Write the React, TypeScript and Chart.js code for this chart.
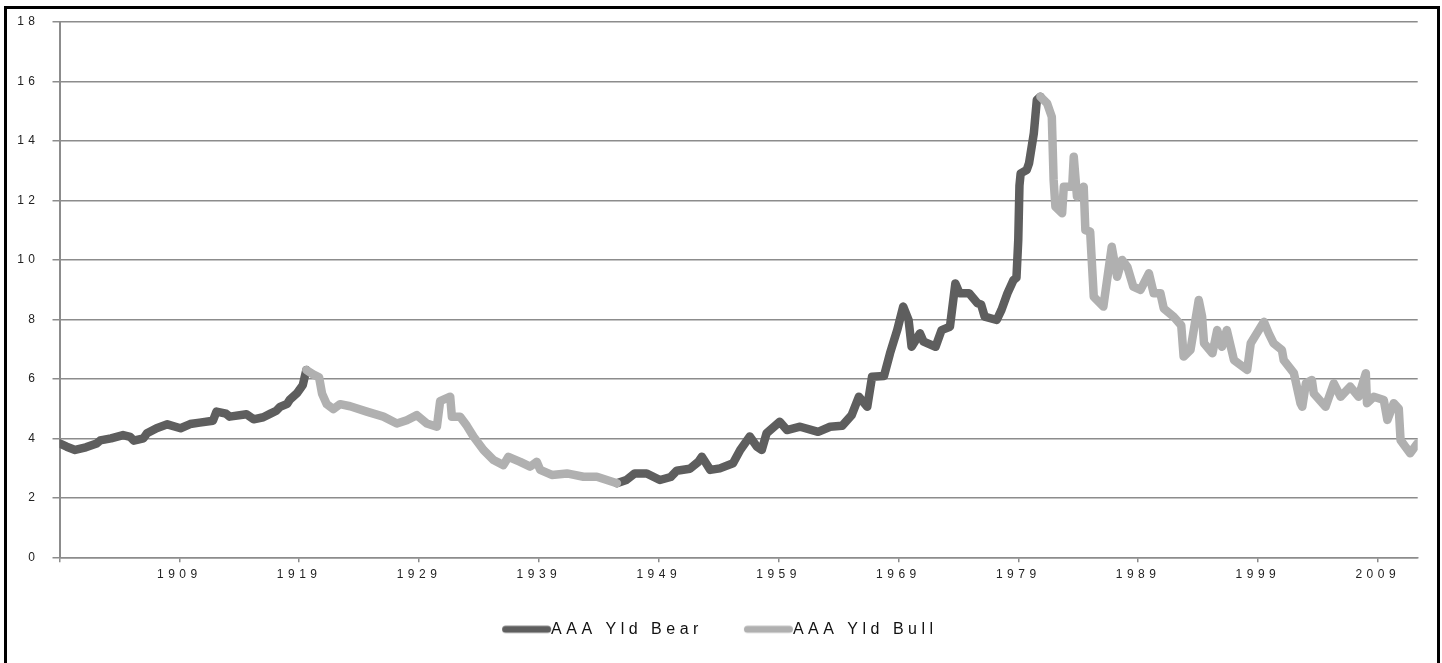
import React, { useEffect, useRef } from "react";
import { Chart, registerables } from "chart.js";

Chart.register(...registerables);

// ---- data ----
const seriesNames = ["AAA Yld Bear", "AAA Yld Bull"];

// Bear regimes: 1899-1919 and 1945-1980 (null = break between the two runs)
const bearYears = [
  1899.0, 1899.6, 1900.3, 1901.2, 1902.1, 1902.4, 1903.3, 1904.3, 1904.9, 1905.2,
  1906.0, 1906.3, 1907.1, 1908.0, 1909.1, 1909.9, 1910.7, 1911.8, 1912.1, 1912.9,
  1913.2, 1914.6, 1915.2, 1916.0, 1916.6, 1917.1, 1917.4, 1918.0, 1918.2, 1918.8,
  1919.3, 1919.45, 1919.6,
  1930.0,
  1945.5, 1946.3, 1947.0, 1948.0, 1949.1, 1950.0, 1950.5, 1951.6, 1952.3, 1952.6,
  1953.3, 1954.1, 1955.2, 1955.8, 1956.6, 1957.2, 1957.6, 1958.0, 1959.1, 1959.7,
  1960.8, 1962.3, 1963.3, 1964.3, 1965.1, 1965.7, 1966.4, 1966.8, 1967.8, 1968.3,
  1968.9, 1969.4, 1969.85, 1970.1, 1970.8, 1971.1, 1972.1, 1972.6, 1973.3, 1973.75,
  1974.1, 1974.9, 1975.6, 1975.9, 1976.2, 1977.2, 1977.6, 1978.1, 1978.6, 1978.85,
  1979.0, 1979.1, 1979.2, 1979.7, 1979.9, 1980.3, 1980.55, 1980.85,
];
const bearYields = [
  3.83, 3.72, 3.61, 3.7, 3.83, 3.93, 4.0, 4.11, 4.05, 3.92,
  4.0, 4.17, 4.34, 4.47, 4.34, 4.48, 4.53, 4.59, 4.9, 4.83,
  4.73, 4.81, 4.64, 4.71, 4.83, 4.93, 5.06, 5.16, 5.29, 5.51,
  5.79, 6.05, 6.3,
  null,
  2.49, 2.6, 2.82, 2.82, 2.6, 2.7, 2.91, 2.98, 3.21, 3.38,
  2.94, 2.99, 3.16, 3.61, 4.06, 3.72, 3.61, 4.17, 4.56, 4.28,
  4.39, 4.22, 4.39, 4.42, 4.78, 5.4, 5.06, 6.07, 6.1, 6.86,
  7.64, 8.43, 7.98, 7.08, 7.53, 7.25, 7.08, 7.64, 7.75, 9.21,
  8.88, 8.88, 8.54, 8.5, 8.09, 7.98, 8.32, 8.88, 9.32, 9.4,
  10.67, 12.5, 12.91, 13.02, 13.25, 14.26, 15.38, 15.49,
];

// Bull regimes: 1919-1945 and 1980-2012
const bullYears = [
  1919.6, 1920.16, 1920.66, 1920.91, 1921.3, 1921.85, 1922.41, 1923.25, 1924.64, 1926.03,
  1927.15, 1927.98, 1928.82, 1929.65, 1930.49, 1930.76, 1931.6, 1931.74, 1932.43, 1932.99,
  1933.54, 1934.38, 1935.21, 1936.04, 1936.46, 1937.44, 1938.27, 1938.83, 1939.11, 1940.08,
  1941.34, 1942.72, 1943.84, 1945.51,
  1960.0,
  1980.85, 1981.4, 1981.8, 1981.95, 1982.1, 1982.66, 1982.8, 1983.5, 1983.63, 1983.9,
  1984.46, 1984.6, 1985.0, 1985.3, 1986.1, 1986.8, 1987.25, 1987.66, 1988.1, 1988.6,
  1989.2, 1989.9, 1990.3, 1990.86, 1991.14, 1991.97, 1992.6, 1992.8, 1993.37, 1994.06,
  1994.34, 1994.5, 1995.2, 1995.6, 1996.0, 1996.4, 1997.0, 1998.1, 1998.4, 1999.5,
  1999.9, 2000.3, 2001.0, 2001.15, 2002.0, 2002.55, 2002.7, 2003.0, 2003.5, 2003.66,
  2004.64, 2005.33, 2005.9, 2006.7, 2007.4, 2008.0, 2008.1, 2008.67, 2009.5, 2009.8,
  2010.33, 2010.75, 2010.9, 2011.7, 2012.3,
];
const bullYields = [
  6.3, 6.15, 6.05, 5.5, 5.15, 4.98, 5.15, 5.08, 4.9, 4.73,
  4.5, 4.61, 4.78, 4.5, 4.39, 5.25, 5.4, 4.73, 4.73, 4.42,
  4.06, 3.61, 3.27, 3.1, 3.38, 3.21, 3.05, 3.21, 2.94, 2.77,
  2.82, 2.71, 2.71, 2.49,
  null,
  15.49, 15.27, 14.81, 12.69, 11.79, 11.57, 12.46, 12.46, 13.47, 12.13,
  12.46, 11.0, 10.95, 8.76, 8.43, 10.44, 9.43, 10.0, 9.77, 9.1,
  8.99, 9.55, 8.88, 8.88, 8.37, 8.09, 7.8, 6.75, 6.97, 8.65,
  8.09, 7.2, 6.86, 7.64, 7.08, 7.64, 6.63, 6.3, 7.2, 7.92,
  7.53, 7.2, 6.97, 6.63, 6.19, 5.18, 5.06, 5.85, 5.96, 5.51,
  5.06, 5.85, 5.4, 5.74, 5.4, 6.19, 5.18, 5.4, 5.29, 4.62,
  5.18, 5.0, 3.94, 3.5, 3.83,
];

const xTickYears = [1899, 1909, 1919, 1929, 1939, 1949, 1959, 1969, 1979, 1989, 1999, 2009];
const xTickLabels = ["", "1909", "1919", "1929", "1939", "1949", "1959", "1969", "1979", "1989", "1999", "2009"];
const xMin = 1899;
const xMax = 2012.33;
const yMin = 0;
const yMax = 18;
const yStep = 2;

const BEAR = "#5e5e5e";
const BULL = "#b0b0b0";
const GRID = "#8c8c8c";
const FONT = "'Liberation Sans', Arial, sans-serif";
const LEGEND_FONT = 16;
const SWATCH_W = 56; // legend item box width
const SWATCH_LINE = 49; // visible line length

const toPoints = (xs: number[], ys: (number | null)[]) => xs.map((x, i) => ({ x, y: ys[i] }));

// legend swatch: a round-capped line that ends where the label text starts
const makeSwatch = (color: string) => {
  const imgW = 80;
  const c = document.createElement("canvas");
  c.width = imgW;
  c.height = 10;
  const g = c.getContext("2d")!;
  // image is centred on boxX + SWATCH_W/2; text starts at boxX + SWATCH_W + font/2
  const textStart = imgW / 2 + SWATCH_W / 2 + LEGEND_FONT / 2;
  g.strokeStyle = color;
  g.lineWidth = 7;
  g.lineCap = "round";
  g.beginPath();
  g.moveTo(textStart - SWATCH_LINE + 3.5, 5);
  g.lineTo(textStart - 3.5, 5);
  g.stroke();
  return c;
};

const spacingPlugin = {
  id: "letterSpacing",
  beforeLayout(chart: any) {
    chart.ctx.letterSpacing = "4.5px";
  },
  beforeDraw(chart: any) {
    chart.ctx.letterSpacing = "4.5px";
  },
};

export default function App() {
  const ref = useRef<HTMLCanvasElement | null>(null);

  useEffect(() => {
    if (!ref.current) return;
    const swatches = [makeSwatch(BEAR), makeSwatch(BULL)];
    const chart = new Chart(ref.current, {
      type: "line",
      data: {
        datasets: [
          {
            label: seriesNames[0],
            data: toPoints(bearYears, bearYields) as any,
            borderColor: BEAR,
            backgroundColor: BEAR,
            borderWidth: 8.5,
            pointRadius: 0,
            tension: 0,
            spanGaps: false,
            borderJoinStyle: "round",
            borderCapStyle: "round",
            order: 1,
          },
          {
            label: seriesNames[1],
            data: toPoints(bullYears, bullYields) as any,
            borderColor: BULL,
            backgroundColor: BULL,
            borderWidth: 8.5,
            pointRadius: 0,
            tension: 0,
            spanGaps: false,
            borderJoinStyle: "round",
            borderCapStyle: "round",
            order: 0,
          },
        ],
      },
      options: {
        animation: false,
        responsive: false,
        events: [],
        layout: { padding: { left: 0, right: 19.3, top: 13, bottom: 15.7 } },
        scales: {
          x: {
            type: "linear",
            min: xMin,
            max: xMax,
            afterBuildTicks: (scale: any) => {
              scale.ticks = xTickYears.map((v) => ({ value: v }));
            },
            afterFit: (scale: any) => {
              scale.height = 38;
            },
            ticks: {
              autoSkip: false,
              maxRotation: 0,
              minRotation: 0,
              padding: 5,
              color: "#222",
              font: { family: FONT, size: 12 },
              callback: (value: any) => {
                const i = xTickYears.indexOf(Number(value));
                return i >= 0 ? xTickLabels[i] : "";
              },
            },
            grid: {
              drawOnChartArea: false,
              drawTicks: true,
              tickLength: 5,
              color: GRID,
              lineWidth: 1.5,
            },
            border: { display: true, color: GRID, width: 1.5 },
          },
          y: {
            min: yMin,
            max: yMax,
            afterFit: (scale: any) => {
              scale.width = 52.5;
              scale.paddingTop = 6;
              scale.paddingBottom = 6;
            },
            ticks: {
              stepSize: yStep,
              padding: 13,
              color: "#222",
              font: { family: FONT, size: 12 },
            },
            grid: {
              color: GRID,
              lineWidth: 1.5,
              tickLength: 7,
              drawTicks: true,
            },
            border: { display: true, color: GRID, width: 2 },
          },
        },
        plugins: {
          tooltip: { enabled: false },
          title: { display: false },
          legend: {
            display: true,
            position: "bottom",
            labels: {
              usePointStyle: true,
              pointStyleWidth: SWATCH_W,
              boxHeight: 7,
              padding: 26,
              color: "#111",
              font: { family: FONT, size: LEGEND_FONT },
              generateLabels: () =>
                [BEAR, BULL].map((c, i) => ({
                  text: seriesNames[i],
                  fillStyle: c,
                  strokeStyle: c,
                  lineWidth: 0,
                  pointStyle: swatches[i],
                  hidden: false,
                  datasetIndex: i,
                  fontColor: "#111",
                })),
            },
          },
        },
      } as any,
      plugins: [spacingPlugin],
    });
    return () => chart.destroy();
  }, []);

  return (
    <div
      style={{
        position: "fixed",
        left: 4,
        top: 6,
        width: 1430,
        height: 700,
        border: "3px solid #000",
        background: "#fff",
      }}
    >
      <canvas ref={ref} width={1430} height={654} style={{ display: "block" }} />
    </div>
  );
}
